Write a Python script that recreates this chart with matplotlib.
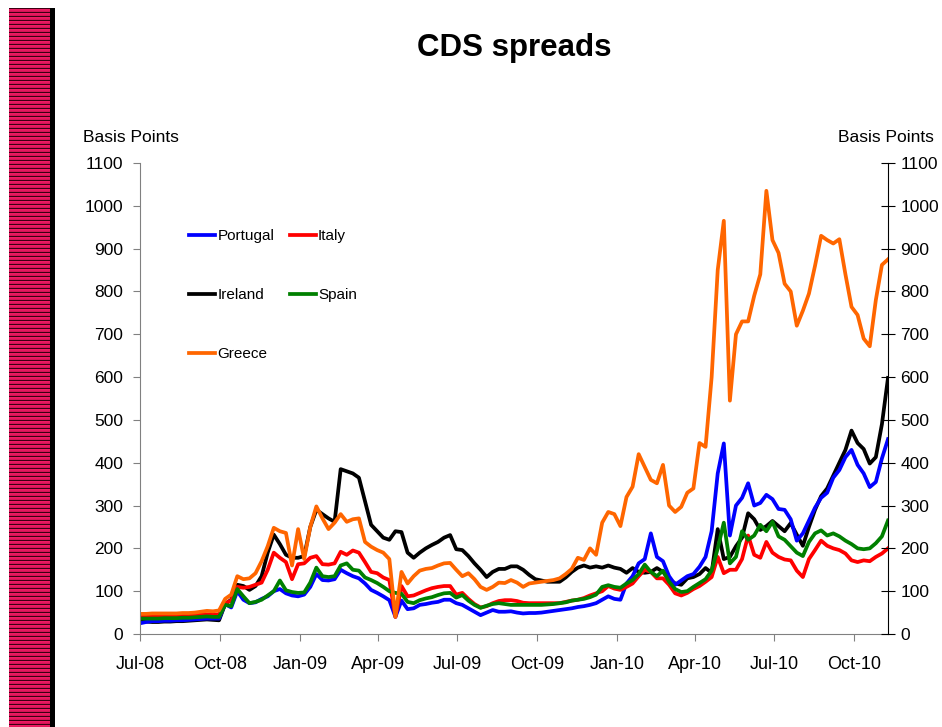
import numpy as np
import pandas as pd
import matplotlib
matplotlib.use("Agg")
import matplotlib.pyplot as plt
import matplotlib.dates as mdates

plt.rcParams['font.family'] = ['Liberation Sans', 'DejaVu Sans']

# weekly observations, Jul-08 .. Nov-10 (basis points)
dates = pd.date_range('2008-07-01', periods=124, freq='7D')

greece = [47, 47, 48, 48, 48, 48, 48, 49, 49, 50, 52, 54, 53, 55,
          82, 92, 135, 128, 130, 142, 170, 205, 248, 240, 236, 160, 245, 175, 250, 298,
          270, 245, 260, 280, 262, 268, 270, 215, 204, 196, 190, 175, 40, 145,
          118, 135, 148, 152, 154, 160, 165, 166, 150, 135, 142, 128, 110, 103,
          110, 120, 119, 126, 120, 110, 118, 120, 122, 124, 126, 130, 140, 152,
          178, 173, 200, 185, 260, 285, 280, 252, 320, 344, 420, 390, 360, 352,
          395, 300, 285, 297, 330, 340, 446, 437, 600, 850, 965, 545, 700, 730,
          730, 790, 840, 1035, 920, 890, 818, 800, 720, 755, 795, 860, 930, 920,
          912, 922, 840, 764, 745, 690, 672, 780, 862, 875]

ireland = [30, 29, 28, 28, 29, 29, 30, 30, 31, 32, 33, 34, 33, 32,
           70, 80, 115, 112, 103, 112, 135, 190, 232, 210, 185, 178, 178, 182, 250, 290,
           280, 270, 262, 385, 380, 375, 365, 310, 255, 240, 225, 220, 240, 238,
           190, 178, 190, 200, 208, 215, 225, 231, 198, 196, 182, 165, 150, 133,
           145, 152, 152, 158, 158, 150, 138, 128, 125, 122, 122, 122, 132, 145,
           155, 160, 155, 158, 155, 160, 155, 152, 143, 154, 145, 143, 145, 154,
           145, 128, 118, 115, 130, 133, 140, 154, 143, 245, 175, 180, 205, 225,
           282, 268, 243, 252, 264, 252, 240, 259, 232, 206, 250, 290, 322, 340,
           370, 400, 430, 475, 446, 432, 398, 413, 490, 598]

portugal = [25, 28, 30, 30, 31, 31, 32, 32, 33, 34, 35, 36, 36, 36,
            70, 62, 100, 80, 72, 74, 82, 88, 100, 105, 95, 90, 88, 92, 110, 140,
            126, 125, 128, 150, 142, 135, 130, 118, 103, 96, 88, 79, 40, 78,
            58, 60, 68, 70, 73, 75, 80, 80, 72, 68, 60, 52, 44, 50,
            56, 52, 52, 53, 50, 48, 49, 49, 50, 52, 54, 56, 58, 60,
            63, 65, 68, 72, 80, 88, 82, 80, 118, 135, 165, 175, 235, 180,
            170, 135, 115, 125, 135, 140, 157, 180, 240, 375, 445, 230, 300, 318,
            352, 300, 306, 325, 315, 292, 290, 268, 218, 235, 265, 295, 318, 330,
            365, 383, 413, 430, 395, 375, 343, 355, 410, 455]

italy = [42, 42, 42, 42, 42, 42, 42, 43, 43, 44, 45, 46, 45, 46,
         72, 78, 110, 108, 110, 115, 120, 150, 190, 178, 168, 128, 163, 165, 178, 182,
         163, 162, 165, 192, 185, 195, 190, 168, 145, 142, 132, 126, 40, 112,
         88, 90, 96, 102, 107, 110, 112, 112, 92, 96, 82, 70, 62, 65,
         72, 77, 79, 79, 77, 73, 72, 72, 72, 72, 72, 72, 75, 78,
         80, 84, 90, 95, 100, 112, 106, 103, 110, 118, 135, 150, 145, 130,
         130, 115, 95, 90, 96, 105, 112, 122, 133, 180, 142, 150, 150, 175,
         230, 185, 178, 215, 190, 180, 174, 172, 148, 133, 175, 196, 218, 206,
         200, 196, 188, 172, 168, 172, 170, 180, 188, 200]

spain = [36, 36, 36, 36, 37, 37, 37, 38, 38, 39, 40, 41, 40, 40,
         68, 65, 105, 88, 72, 75, 80, 90, 100, 125, 102, 98, 96, 97, 120, 155,
         135, 133, 135, 160, 165, 150, 148, 132, 126, 119, 110, 100, 96, 94,
         75, 72, 79, 83, 86, 91, 95, 96, 85, 91, 78, 68, 61, 66,
         70, 72, 70, 68, 68, 68, 68, 68, 68, 69, 70, 72, 74, 78,
         80, 82, 86, 92, 110, 114, 110, 108, 118, 126, 140, 162, 145, 135,
         148, 122, 105, 98, 100, 110, 119, 128, 148, 200, 260, 165, 180, 240,
         220, 230, 255, 240, 262, 228, 220, 205, 190, 182, 215, 235, 242, 230,
         235, 228, 218, 210, 200, 198, 200, 212, 228, 265]

fig = plt.figure(figsize=(9.42, 7.27), dpi=100)

# decorative striped band on the left
band = fig.add_axes([9 / 942, 0, 41 / 942, 1 - 8 / 727])
rows = np.arange(719)
stripe = np.array([0.0, 1.0, 0.9, 0.7])[rows % 4]
band.imshow(stripe[:, None], aspect='auto', cmap=matplotlib.colors.LinearSegmentedColormap.from_list(
    'strp', ['#3c0012', '#c0104e', '#ee1a62']), interpolation='nearest', vmin=0, vmax=1)
band.axis('off')
edge = fig.add_axes([50 / 942, 0, 5 / 942, 1 - 8 / 727])
edge.set_facecolor('black')
edge.set_xticks([])
edge.set_yticks([])
for s in edge.spines.values():
    s.set_visible(False)

ax = fig.add_axes([140 / 942, 1 - 634 / 727, 748 / 942, 471 / 727])

ax.plot(dates, ireland, color='black', lw=2.7, label='Ireland')
ax.plot(dates, portugal, color='#0000ff', lw=2.7, label='Portugal')
ax.plot(dates, italy, color='#ff0000', lw=2.7, label='Italy')
ax.plot(dates, spain, color='#008000', lw=2.7, label='Spain')
ax.plot(dates, greece, color='#ff6600', lw=2.7, label='Greece')

ax.set_ylim(0, 1100)
ax.set_xlim(pd.Timestamp('2008-07-01'), pd.Timestamp('2010-11-09'))
ax.set_yticks(range(0, 1101, 100))
ax.xaxis.set_major_locator(mdates.MonthLocator(bymonth=[1, 4, 7, 10]))
ax.xaxis.set_major_formatter(mdates.DateFormatter('%b-%y'))

for side in ['top', 'right']:
    ax.spines[side].set_visible(False)
ax.spines['left'].set_color('#808080')
ax.spines['bottom'].set_color('#808080')
ax.tick_params(axis='y', direction='out', length=5, color='#808080', labelsize=12.5, pad=7)
ax.tick_params(axis='x', direction='out', length=5, color='#808080', labelsize=13, pad=11)

ax2 = ax.twinx()
ax2.set_ylim(0, 1100)
ax2.set_yticks(range(0, 1101, 100))
for side in ['top', 'left', 'bottom']:
    ax2.spines[side].set_visible(False)
ax2.spines['right'].set_color('black')
ax2.tick_params(axis='y', direction='inout', length=10, labelsize=12.5, pad=4)

handles, labels = ax.get_legend_handles_labels()
order = [labels.index(n) for n in ['Portugal', 'Ireland', 'Greece', 'Italy', 'Spain']]
ax.legend([handles[i] for i in order], [labels[i] for i in order], ncol=2,
          loc='upper left', bbox_to_anchor=(0.066, 0.86), frameon=False,
          fontsize=11, handlelength=1.7, handletextpad=0.15, columnspacing=1.0,
          labelspacing=2.95, borderaxespad=0, borderpad=0)

fig.text(514 / 942, 1 - 48 / 727, 'CDS spreads', ha='center', va='center',
         fontsize=22.5, fontweight='bold')
fig.text(83 / 942, 1 - 137 / 727, 'Basis Points', ha='left', va='center', fontsize=12.5)
fig.text(934 / 942, 1 - 137 / 727, 'Basis Points', ha='right', va='center', fontsize=12.5)

fig.savefig('out.png', dpi=100)
